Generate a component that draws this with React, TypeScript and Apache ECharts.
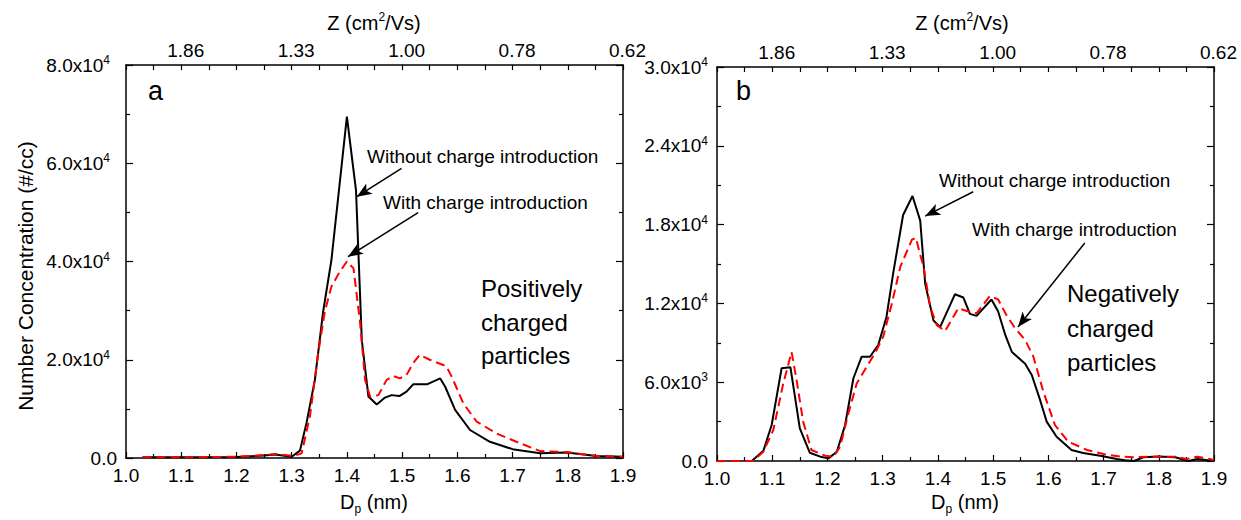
import React, { useEffect, useRef } from 'react';
import * as echarts from 'echarts';

const FONT = '"Liberation Sans", Arial, Helvetica, sans-serif';

// ---------- Panel a: positively charged particles ----------
const aDpWithout = [1.03, 1.10, 1.20, 1.25, 1.27, 1.30, 1.315, 1.327, 1.342, 1.357, 1.372, 1.400, 1.4165, 1.427, 1.439, 1.454, 1.469, 1.481, 1.495, 1.508, 1.520, 1.545, 1.569, 1.578, 1.596, 1.623, 1.659, 1.700, 1.750, 1.798, 1.852, 1.900];
const aWithout = [150, 150, 200, 500, 700, 260, 1500, 7200, 15900, 29800, 40300, 69500, 54500, 24000, 12500, 10900, 12300, 12800, 12600, 13500, 15000, 15000, 16200, 14500, 9800, 5700, 3300, 1800, 950, 1100, 400, 250];
const aDpWith = [1.03, 1.10, 1.20, 1.25, 1.27, 1.303, 1.318, 1.333, 1.348, 1.360, 1.372, 1.387, 1.400, 1.412, 1.424, 1.433, 1.442, 1.457, 1.472, 1.484, 1.496, 1.508, 1.520, 1.532, 1.550, 1.580, 1.590, 1.611, 1.635, 1.671, 1.707, 1.750, 1.798, 1.852, 1.900];
const aWith = [150, 150, 250, 600, 800, 400, 950, 8400, 21300, 29800, 34900, 37900, 40000, 38600, 27400, 15900, 12500, 12800, 15900, 16700, 16200, 16900, 19300, 21000, 20000, 18700, 16500, 11100, 7400, 5000, 3300, 1400, 1200, 400, 250];

// ---------- Panel b: negatively charged particles ----------
const bDpWithout = [1.063, 1.084, 1.099, 1.117, 1.133, 1.150, 1.168, 1.187, 1.202, 1.217, 1.232, 1.247, 1.262, 1.277, 1.292, 1.307, 1.319, 1.337, 1.354, 1.368, 1.377, 1.392, 1.404, 1.431, 1.446, 1.458, 1.470, 1.497, 1.509, 1.522, 1.534, 1.558, 1.570, 1.585, 1.597, 1.615, 1.642, 1.663, 1.694, 1.724, 1.739, 1.755, 1.772, 1.800, 1.830, 1.853, 1.870, 1.900];
const bWithout = [0, 780, 2740, 7060, 7130, 2490, 630, 330, 200, 710, 2740, 6300, 7940, 7940, 8830, 10990, 14290, 18730, 20180, 18300, 13500, 10700, 10200, 12700, 12450, 11200, 11050, 12300, 11400, 9600, 8300, 7400, 6550, 4650, 3000, 1850, 840, 610, 400, 150, 50, 0, 280, 350, 280, 0, 150, 0];
const bDpWith = [1.000, 1.065, 1.084, 1.102, 1.120, 1.135, 1.144, 1.156, 1.171, 1.196, 1.211, 1.223, 1.238, 1.253, 1.271, 1.286, 1.301, 1.316, 1.332, 1.353, 1.360, 1.368, 1.374, 1.386, 1.398, 1.413, 1.428, 1.437, 1.452, 1.470, 1.494, 1.509, 1.524, 1.540, 1.558, 1.573, 1.591, 1.612, 1.636, 1.670, 1.700, 1.731, 1.755, 1.780, 1.830, 1.850, 1.870, 1.900];
const bWith = [0, 0, 710, 2360, 5900, 8300, 6200, 3000, 840, 400, 330, 1090, 3630, 5900, 7180, 8200, 9460, 11880, 14800, 16850, 17000, 15700, 14800, 11750, 10350, 9900, 10990, 11630, 11420, 11250, 12560, 12310, 11120, 10100, 9210, 7940, 5280, 2740, 1470, 840, 530, 330, 280, 330, 330, 150, 330, 80];

// ---------- Top axis (mobility Z) ----------
const zTickDp = [1.1, 1.3, 1.5, 1.7, 1.9];
const zTickLabels = ['1.86', '1.33', '1.00', '0.78', '0.62'];

// ---------- Arrows (tail -> head, data units) ----------
const aArrows = [
  [[1.499, 58970], [1.418, 53190]],
  [[1.529, 49930], [1.402, 40980]],
];
const bArrows = [
  [[1.464, 20500], [1.377, 18650]],
  [[1.666, 16600], [1.545, 10200]],
];

const pairs = (xs: number[], ys: number[]) => xs.map((x, i) => [x, ys[i]]);

const axisLineStyle = { color: '#000', width: 1.5 };
const tickStyle = { color: '#000', width: 1.2 };

function bottomX(grid: number) {
  return {
    type: 'value', gridIndex: grid, position: 'bottom', min: 1.0, max: 1.9, interval: 0.1,
    axisLine: { show: true, onZero: false, lineStyle: axisLineStyle },
    axisTick: { show: true, inside: true, length: 6, lineStyle: tickStyle },
    minorTick: { show: true, splitNumber: 2, length: 4, lineStyle: tickStyle },
    splitLine: { show: false }, minorSplitLine: { show: false },
    axisLabel: { margin: 8, color: '#000', fontSize: 19, fontFamily: FONT, formatter: (v: number) => v.toFixed(1) },
  };
}

function topX(grid: number) {
  return {
    type: 'value', gridIndex: grid, position: 'top', min: 1.0, max: 1.9, interval: 0.05,
    axisLine: { show: true, onZero: false, lineStyle: axisLineStyle },
    axisTick: { show: true, inside: true, length: 5, lineStyle: tickStyle },
    splitLine: { show: false },
    axisLabel: {
      margin: 5, color: '#000', fontSize: 19, fontFamily: FONT, padding: [0, 0, 0, 9],
      formatter: (v: number) => {
        const i = zTickDp.findIndex((d) => Math.abs(d - v) < 1e-6);
        return i >= 0 ? zTickLabels[i] : '';
      },
    },
  };
}

const richY = {
  b: { fontSize: 19, lineHeight: 22, fontFamily: FONT, color: '#000' },
  s: { fontSize: 12, lineHeight: 12, fontFamily: FONT, color: '#000', verticalAlign: 'top' },
  p: { width: 7 },
};

function leftY(grid: number, max: number, interval: number, fmt: (v: number) => string) {
  return {
    type: 'value', gridIndex: grid, position: 'left', min: 0, max, interval,
    axisLine: { show: true, onZero: false, lineStyle: axisLineStyle },
    axisTick: { show: true, inside: true, length: 7, lineStyle: tickStyle },
    minorTick: { show: true, splitNumber: 2, length: 4, lineStyle: tickStyle },
    splitLine: { show: false }, minorSplitLine: { show: false },
    axisLabel: { margin: 9, color: '#000', fontSize: 19, fontFamily: FONT, formatter: fmt, rich: richY },
  };
}

function rightY(grid: number, max: number, interval: number) {
  return {
    type: 'value', gridIndex: grid, position: 'right', min: 0, max, interval,
    axisLine: { show: true, onZero: false, lineStyle: axisLineStyle },
    axisTick: { show: true, inside: true, length: 7, lineStyle: tickStyle },
    minorTick: { show: true, splitNumber: 2, length: 4, lineStyle: tickStyle },
    splitLine: { show: false }, minorSplitLine: { show: false },
    axisLabel: { show: false },
  };
}

const fmtA = (v: number) => (v === 0 ? '0.0' : `{b|${(v / 1e4).toFixed(1)}x10}{s|4}{p|}`);
const fmtB = (v: number) => {
  if (v === 0) return '0.0';
  if (v < 1e4) return `{b|${(v / 1e3).toFixed(1)}x10}{s|3}`;
  return `{b|${(v / 1e4).toFixed(1)}x10}{s|4}`;
};

function arrowMark(arrows: number[][][]) {
  return {
    silent: true,
    animation: false,
    symbol: ['none', 'arrow'],
    symbolSize: [9, 15],
    lineStyle: { color: '#000', width: 1.5, type: 'solid' },
    label: { show: false },
    emphasis: { disabled: true },
    data: arrows.map(([t, h]) => [{ coord: t }, { coord: h }]),
  };
}

function solid(xIdx: number, yIdx: number, data: number[][], arrows: number[][][]) {
  return {
    type: 'line', xAxisIndex: xIdx, yAxisIndex: yIdx, data, symbol: 'none', showSymbol: false,
    lineStyle: { color: '#000', width: 2 }, z: 2, markLine: arrowMark(arrows),
  };
}
function dashed(xIdx: number, yIdx: number, data: number[][]) {
  return {
    type: 'line', xAxisIndex: xIdx, yAxisIndex: yIdx, data, symbol: 'none', showSymbol: false,
    lineStyle: { color: '#ff0000', width: 2, type: [9, 5] }, z: 3,
  };
}

function txt(x: number, y: number, text: string, fontSize: number, extra: any = {}) {
  return {
    type: 'text', x, y, silent: true, ...extra,
    style: { text, fontSize, fontFamily: FONT, fill: '#000', align: 'left', verticalAlign: 'middle', ...(extra.style || {}) },
  };
}

const titleRich = {
  a: { fontSize: 20, lineHeight: 24, fontFamily: FONT, color: '#000' },
  s: { fontSize: 12, lineHeight: 12, fontFamily: FONT, color: '#000', verticalAlign: 'top' },
  d: { fontSize: 12, lineHeight: 26, fontFamily: FONT, color: '#000', verticalAlign: 'bottom' },
};

const option: any = {
  animation: false,
  backgroundColor: '#fff',
  grid: [
    { left: 126, top: 65, width: 497, height: 393, containLabel: false },
    { left: 717, top: 67, width: 497, height: 394, containLabel: false },
  ],
  xAxis: [bottomX(0), topX(0), bottomX(1), topX(1)],
  yAxis: [
    leftY(0, 80000, 20000, fmtA), rightY(0, 80000, 20000),
    leftY(1, 30000, 6000, fmtB), rightY(1, 30000, 6000),
  ],
  series: [
    solid(0, 0, pairs(aDpWithout, aWithout), aArrows),
    dashed(0, 0, pairs(aDpWith, aWith)),
    solid(2, 2, pairs(bDpWithout, bWithout), bArrows),
    dashed(2, 2, pairs(bDpWith, bWith)),
  ],
  graphic: [
    txt(148, 91, 'a', 27),
    txt(736, 91, 'b', 27),
    txt(367, 156, 'Without charge introduction', 19),
    txt(383, 202, 'With charge introduction', 19),
    {
      type: 'text', x: 481, y: 322, silent: true,
      style: { text: 'Positively\ncharged\nparticles', fontSize: 24, lineHeight: 33.5, fontFamily: FONT, fill: '#000', align: 'left', verticalAlign: 'middle' },
    },
    txt(939, 180, 'Without charge introduction', 19),
    txt(972, 229, 'With charge introduction', 19),
    {
      type: 'text', x: 1067, y: 328, silent: true,
      style: { text: 'Negatively\ncharged\nparticles', fontSize: 24, lineHeight: 34.5, fontFamily: FONT, fill: '#000', align: 'left', verticalAlign: 'middle' },
    },
    {
      type: 'text', x: 25, y: 276, rotation: Math.PI / 2, silent: true,
      style: { text: 'Number Concentration (#/cc)', fontSize: 21, fontFamily: FONT, fill: '#000', align: 'center', verticalAlign: 'middle' },
    },
    {
      type: 'text', x: 374, y: 23, silent: true,
      style: { text: '{a|Z (cm}{s|2}{a|/Vs)}', rich: titleRich, align: 'center', verticalAlign: 'middle' },
    },
    {
      type: 'text', x: 962, y: 23, silent: true,
      style: { text: '{a|Z (cm}{s|2}{a|/Vs)}', rich: titleRich, align: 'center', verticalAlign: 'middle' },
    },
    {
      type: 'text', x: 374, y: 502, silent: true,
      style: { text: '{a|D}{d|p}{a| (nm)}', rich: titleRich, align: 'center', verticalAlign: 'middle' },
    },
    {
      type: 'text', x: 965, y: 502, silent: true,
      style: { text: '{a|D}{d|p}{a| (nm)}', rich: titleRich, align: 'center', verticalAlign: 'middle' },
    },
  ],
};

export default function App() {
  const ref = useRef<HTMLDivElement>(null);
  useEffect(() => {
    const chart = echarts.init(ref.current as HTMLDivElement, undefined, { renderer: 'svg' });
    chart.setOption(option);
    return () => chart.dispose();
  }, []);
  return (
    <div
      ref={ref}
      style={{ position: 'fixed', left: 0, top: 0, width: 1241, height: 520, background: '#fff' }}
    />
  );
}
